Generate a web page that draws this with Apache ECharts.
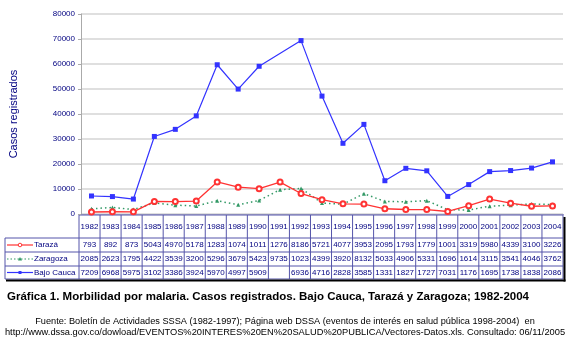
<!DOCTYPE html>
<html>
<head>
<meta charset="utf-8">
<script src="https://cdn.jsdelivr.net/npm/echarts@6/dist/echarts.min.js"></script>
<style>
  html, body { margin: 0; padding: 0; background: #fff; }
  #chart { width: 570px; height: 343px; }
</style>
</head>
<body>
<div id="chart"></div>
<script>
// Data (table cells are clipped to 4 characters in the original)
const years = ["1982","1983","1984","1985","1986","1987","1988","1989","1990","1991","1992","1993",
  "1994","1995","1996","1997","1998","1999","2000","2001","2002","2003","2004"];
const taraza = [793, 892, 873, 5043, 4970, 5178, 12830, 10740, 10110, 12760, 8186, 5721,
  4077, 3953, 2095, 1793, 1779, 1001, 3319, 5980, 4339, 3100, 3226];
const zaragoza = [2085, 2623, 1795, 4422, 3539, 3200, 5296, 3679, 5423, 9735, 10230, 4399,
  3920, 8132, 5033, 4906, 5331, 1696, 1614, 3115, 3541, 4046, 3762];
const bajoCauca = [7209, 6968, 5975, 31020, 33860, 39240, 59700, 49970, 59090, null, 69360, 47160,
  28280, 35850, 13310, 18270, 17270, 7031, 11760, 16950, 17380, 18380, 20860];
const seriesNames = ["Tarazá", "Zaragoza", "Bajo Cauca"];
const seriesColors = ["#ff3333", "#339966", "#3333ff"];

const chart = echarts.init(document.getElementById("chart"));

// table layout
const left = 79, right = 563;
const colW = (right - left) / years.length;
const rowY = [215, 238, 252, 266, 279];
const navy = "#000080";
const border = "#5555aa";
const font = "8px Arial";

const graphics = [];
const line = (x1, y1, x2, y2, stroke, w, dash) => graphics.push({
  type: "line", silent: true,
  shape: { x1, y1, x2, y2 },
  style: { stroke, lineWidth: w || 1, lineDash: dash || null }
});
const text = (t, x, y, align, extra) => graphics.push({
  type: "text", silent: true,
  style: Object.assign({ text: t, x, y, align: align || "center", verticalAlign: "middle", font, fill: navy }, extra || {})
});

// horizontal borders
line(left, rowY[0], right, rowY[0], border);
for (let i = 1; i < rowY.length; i++) line(5, rowY[i], right, rowY[i], border);
// vertical borders
line(5, rowY[1], 5, rowY[4], border);
for (let i = 0; i <= years.length; i++) {
  const x = left + i * colW;
  line(x, rowY[0] - 1, x, rowY[4], border);
}
// shadow
line(6, rowY[4] + 1.5, right + 2.5, rowY[4] + 1.5, "#000", 2);
line(right + 1.5, rowY[0] + 2, right + 1.5, rowY[4] + 2.5, "#000", 2);

// header labels
years.forEach((y, i) => text(y, left + (i + 0.5) * colW, (rowY[0] + rowY[1]) / 2));
// value rows
[taraza, zaragoza, bajoCauca].forEach((vals, r) => {
  const cy = (rowY[r + 1] + rowY[r + 2]) / 2;
  vals.forEach((v, i) => {
    if (v === null) return;
    text(String(v).slice(0, 4), left + (i + 0.5) * colW, cy);
  });
  // legend key
  text(seriesNames[r], 34, cy, "left");
});
// legend symbols
const ly = [(rowY[1] + rowY[2]) / 2, (rowY[2] + rowY[3]) / 2, (rowY[3] + rowY[4]) / 2];
line(7, ly[0], 33, ly[0], seriesColors[0], 1.2);
graphics.push({ type: "circle", silent: true, shape: { cx: 20, cy: ly[0], r: 1.8 }, style: { fill: "#fff", stroke: seriesColors[0], lineWidth: 1 } });
line(7, ly[1], 33, ly[1], seriesColors[1], 1.2, [1.5, 2]);
graphics.push({ type: "polygon", silent: true, shape: { points: [[20, ly[1] - 2], [18, ly[1] + 1.5], [22, ly[1] + 1.5]] }, style: { fill: seriesColors[1] } });
line(7, ly[2], 33, ly[2], seriesColors[2], 1.2);
graphics.push({ type: "rect", silent: true, shape: { x: 18.5, y: ly[2] - 1.5, width: 3, height: 3 }, style: { fill: seriesColors[2] } });

// title and source
text("Gráfica 1. Morbilidad por malaria. Casos registrados. Bajo Cauca, Tarazá y Zaragoza; 1982-2004",
  7, 297, "left", { font: "bold 11.5px Arial", fill: "#000" });
text("Fuente: Boletín de Actividades SSSA (1982-1997); Página web DSSA (eventos de interés en salud pública 1998-2004)  en",
  285, 321, "center", { font: "9.2px Arial", fill: "#000" });
text("http://www.dssa.gov.co/dowload/EVENTOS%20INTERES%20EN%20SALUD%20PUBLICA/Vectores-Datos.xls. Consultado: 06/11/2005",
  285, 332, "center", { font: "9.3px Arial", fill: "#000" });

chart.setOption({
  animation: false,
  textStyle: { fontFamily: "Arial" },
  grid: { left: left, right: 570 - right, top: 14, bottom: 343 - 214 },
  xAxis: {
    type: "category",
    data: years,
    boundaryGap: true,
    axisLine: { lineStyle: { color: "#8888bb" } },
    axisTick: { show: false },
    axisLabel: { show: false },
    splitLine: { show: false }
  },
  yAxis: {
    type: "value",
    min: 0,
    max: 80000,
    interval: 10000,
    name: "Casos registrados",
    nameLocation: "middle",
    nameGap: 62,
    nameTextStyle: { color: navy, fontSize: 11 },
    axisLine: { show: true, lineStyle: { color: "#aaaaaa" } },
    axisTick: { show: true, length: 3, lineStyle: { color: "#aaaaaa" } },
    axisLabel: { color: navy, fontSize: 8, margin: 6, formatter: v => String(v) },
    splitLine: { lineStyle: { color: "#d4d4d4", width: 1.5 } }
  },
  series: [
    {
      name: seriesNames[2], type: "line", data: bajoCauca, connectNulls: true,
      symbol: "rect", symbolSize: 5, color: seriesColors[2],
      itemStyle: { color: seriesColors[2] },
      lineStyle: { color: seriesColors[2], width: 1.2 }
    },
    {
      name: seriesNames[1], type: "line", data: zaragoza,
      symbol: "triangle", symbolSize: 4, color: seriesColors[1],
      itemStyle: { color: seriesColors[1] },
      lineStyle: { color: seriesColors[1], width: 1.5, type: [1.5, 3] }
    },
    {
      name: seriesNames[0], type: "line", data: taraza,
      symbol: "emptyCircle", symbolSize: 5, color: seriesColors[0],
      itemStyle: { color: seriesColors[0], borderWidth: 1 },
      lineStyle: { color: seriesColors[0], width: 1.3 }
    }
  ],
  graphic: graphics
});
</script>
</body>
</html>
